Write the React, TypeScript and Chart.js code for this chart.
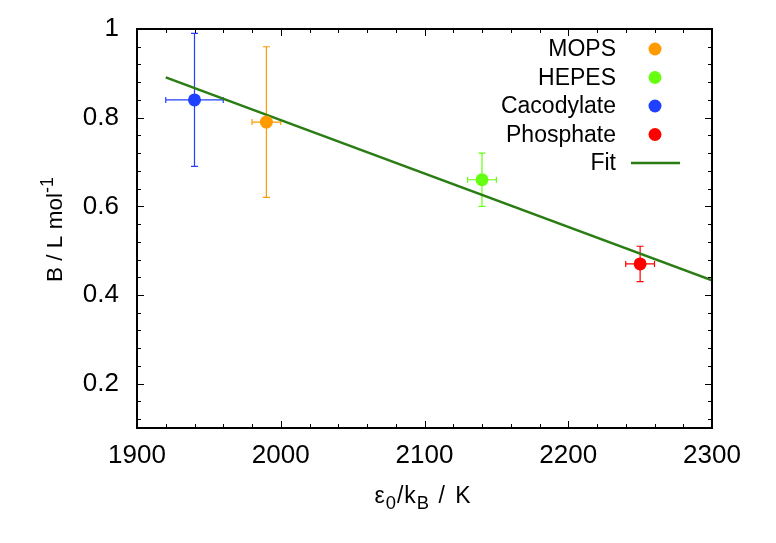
import React, { useEffect, useRef } from "react";
import { Chart, registerables } from "chart.js";

Chart.register(...registerables);

// ---- data ----
const SERIES_NAMES = ["MOPS", "HEPES", "Cacodylate", "Phosphate"];
const SERIES_COLORS = ["#ff9a00", "#66ff11", "#2040ff", "#ff0000"];
const X_VALUES = [1990, 2140, 1940, 2250];
const Y_VALUES = [0.79, 0.66, 0.84, 0.47];
const X_ERRORS = [10, 10, 20, 10];
const Y_ERRORS = [0.17, 0.06, 0.15, 0.04];
const FIT_LABEL = "Fit";
const FIT_X = [1920, 2300];
const FIT_Y = [0.891, 0.433];
const X_TICKS = [1900, 2000, 2100, 2200, 2300];
const Y_TICKS = [0.2, 0.4, 0.6, 0.8, 1];
const X_MINOR_STEP = 20;
const Y_MINOR_STEP = 0.04;

const FONT = "'Liberation Sans', Arial, Helvetica, sans-serif";
const FIT_COLOR = "#2a7d12";

type Seg = { t: string; s?: "sub" | "sup"; ls?: number };

function drawRich(ctx: CanvasRenderingContext2D, segs: Seg[], size: number) {
  const c: any = ctx;
  const widths = segs.map((g) => {
    ctx.font = `${g.s ? size * 0.8 : size}px ${FONT}`;
    c.letterSpacing = `${g.ls || 0}px`;
    return ctx.measureText(g.t).width;
  });
  const total = widths.reduce((a, b) => a + b, 0);
  let x = -total / 2;
  segs.forEach((g, i) => {
    ctx.font = `${g.s ? size * 0.8 : size}px ${FONT}`;
    c.letterSpacing = `${g.ls || 0}px`;
    const dy = g.s === "sub" ? size * 0.28 : g.s === "sup" ? -size * 0.38 : 0;
    ctx.fillText(g.t, x, dy);
    x += widths[i];
  });
  c.letterSpacing = "0px";
}

const errorBarPlugin = {
  id: "errorBars",
  beforeDatasetsDraw(chart: any) {
    const { ctx } = chart;
    const xs = chart.scales.x;
    const ys = chart.scales.y;
    ctx.save();
    ctx.lineWidth = 1.2;
    SERIES_NAMES.forEach((_, i) => {
      const px = xs.getPixelForValue(X_VALUES[i]);
      const py = ys.getPixelForValue(Y_VALUES[i]);
      const x1 = xs.getPixelForValue(X_VALUES[i] - X_ERRORS[i]);
      const x2 = xs.getPixelForValue(X_VALUES[i] + X_ERRORS[i]);
      const y1 = ys.getPixelForValue(Y_VALUES[i] - Y_ERRORS[i]);
      const y2 = ys.getPixelForValue(Y_VALUES[i] + Y_ERRORS[i]);
      ctx.strokeStyle = SERIES_COLORS[i];
      ctx.beginPath();
      ctx.moveTo(px, y1);
      ctx.lineTo(px, y2);
      ctx.moveTo(px - 3.5, y1);
      ctx.lineTo(px + 3.5, y1);
      ctx.moveTo(px - 3.5, y2);
      ctx.lineTo(px + 3.5, y2);
      ctx.moveTo(x1, py);
      ctx.lineTo(x2, py);
      ctx.moveTo(x1, py - 3);
      ctx.lineTo(x1, py + 3);
      ctx.moveTo(x2, py - 3);
      ctx.lineTo(x2, py + 3);
      ctx.stroke();
    });
    ctx.restore();
  },
};

const framePlugin = {
  id: "frame",
  afterDraw(chart: any) {
    const { ctx, chartArea: a } = chart;
    const xs = chart.scales.x;
    const ys = chart.scales.y;
    ctx.save();
    ctx.strokeStyle = "#000";
    ctx.lineWidth = 1;
    ctx.beginPath();
    for (let v = xs.min; v <= xs.max + 1e-6; v += X_MINOR_STEP) {
      const px = Math.round(xs.getPixelForValue(v)) + 0.5;
      const major = X_TICKS.some((t) => Math.abs(t - v) < 1e-6);
      const len = major ? 7 : 4;
      ctx.moveTo(px, a.bottom);
      ctx.lineTo(px, a.bottom - len);
      ctx.moveTo(px, a.top);
      ctx.lineTo(px, a.top + len);
    }
    for (let k = 0; ; k++) {
      const v = Y_TICKS[Y_TICKS.length - 1] - k * Y_MINOR_STEP;
      if (v < ys.min - 1e-6) break;
      const py = Math.round(ys.getPixelForValue(v)) + 0.5;
      const major = Y_TICKS.some((t) => Math.abs(t - v) < 1e-6);
      const len = major ? 7 : 4;
      ctx.moveTo(a.left, py);
      ctx.lineTo(a.left + len, py);
      ctx.moveTo(a.right, py);
      ctx.lineTo(a.right - len, py);
    }
    ctx.stroke();
    ctx.lineWidth = 2;
    ctx.strokeRect(a.left, a.top, a.right - a.left, a.bottom - a.top);

    // axis titles
    ctx.fillStyle = "#000";
    ctx.textAlign = "left";
    ctx.textBaseline = "alphabetic";
    ctx.save();
    ctx.translate((a.left + a.right) / 2 - 1, 503);
    drawRich(
      ctx,
      [
        { t: "ε", ls: 1 },
        { t: "0", s: "sub", ls: 1 },
        { t: "/k", ls: 1 },
        { t: "B", s: "sub", ls: 1 },
        { t: " / K", ls: 2 },
      ],
      23
    );
    ctx.restore();
    ctx.save();
    ctx.translate(62, (a.top + a.bottom) / 2 + 1);
    ctx.rotate(-Math.PI / 2);
    drawRich(ctx, [{ t: "B / L mol" }, { t: "-1", s: "sup" }], 22.5);
    ctx.restore();

    // legend
    const rows = [
      ...SERIES_NAMES.map((n, i) => ({ n, c: SERIES_COLORS[i], line: false })),
      { n: FIT_LABEL, c: FIT_COLOR, line: true },
    ];
    ctx.font = `23px ${FONT}`;
    ctx.textAlign = "right";
    ctx.textBaseline = "middle";
    rows.forEach((r, i) => {
      const y = 49 + i * 28.5;
      ctx.fillStyle = "#000";
      ctx.fillText(r.n, 616, y + 1);
      if (r.line) {
        ctx.strokeStyle = r.c;
        ctx.lineWidth = 2.5;
        ctx.beginPath();
        ctx.moveTo(631, y);
        ctx.lineTo(680, y);
        ctx.stroke();
      } else {
        ctx.fillStyle = r.c;
        ctx.beginPath();
        ctx.arc(655, y, 6.5, 0, Math.PI * 2);
        ctx.fill();
      }
    });
    ctx.restore();
  },
};

export default function App() {
  const ref = useRef<HTMLCanvasElement | null>(null);
  useEffect(() => {
    if (!ref.current) return;
    const datasets: any[] = SERIES_NAMES.map((name, i) => ({
      type: "scatter",
      label: name,
      data: [{ x: X_VALUES[i], y: Y_VALUES[i] }],
      backgroundColor: SERIES_COLORS[i],
      borderColor: SERIES_COLORS[i],
      borderWidth: 0,
      pointRadius: 6.5,
      pointHoverRadius: 6.5,
    }));
    datasets.push({
      type: "line",
      label: FIT_LABEL,
      data: FIT_X.map((x, i) => ({ x, y: FIT_Y[i] })),
      borderColor: FIT_COLOR,
      borderWidth: 2.5,
      pointRadius: 0,
      fill: false,
      tension: 0,
    });
    const chart = new Chart(ref.current, {
      type: "scatter",
      data: { datasets },
      options: {
        animation: false,
        responsive: true,
        maintainAspectRatio: false,
        devicePixelRatio: 1,
        layout: { padding: { top: 29, right: 64, left: 0, bottom: 0 } },
        plugins: { legend: { display: false }, tooltip: { enabled: false } },
        scales: {
          x: {
            type: "linear",
            min: 1900,
            max: 2300,
            grid: { display: false, drawTicks: false },
            border: { display: false },
            afterBuildTicks: (s: any) => {
              s.ticks = X_TICKS.map((v) => ({ value: v }));
            },
            afterFit: (s: any) => {
              s.height = 115;
              s.paddingLeft = 0;
              s.paddingRight = 0;
            },
            ticks: {
              padding: 12,
              maxRotation: 0,
              autoSkip: false,
              color: "#000",
              font: { family: FONT, size: 26 },
              callback: (v: any) => String(v),
            },
          },
          y: {
            type: "linear",
            min: 0.1,
            max: 1,
            grid: { display: false, drawTicks: false },
            border: { display: false },
            afterBuildTicks: (s: any) => {
              s.ticks = Y_TICKS.map((v) => ({ value: v }));
            },
            afterFit: (s: any) => {
              s.width = 137;
              s.paddingTop = 0;
              s.paddingBottom = 0;
            },
            ticks: {
              padding: 18,
              autoSkip: false,
              color: "#000",
              font: { family: FONT, size: 26 },
              callback: (v: any) => String(Number(Number(v).toFixed(2))),
            },
          },
        },
      },
      plugins: [errorBarPlugin, framePlugin],
    });
    return () => chart.destroy();
  }, []);
  return (
    <div style={{ position: "absolute", left: 0, top: 0, width: 776, height: 543, background: "#fff" }}>
      <canvas ref={ref} />
    </div>
  );
}
